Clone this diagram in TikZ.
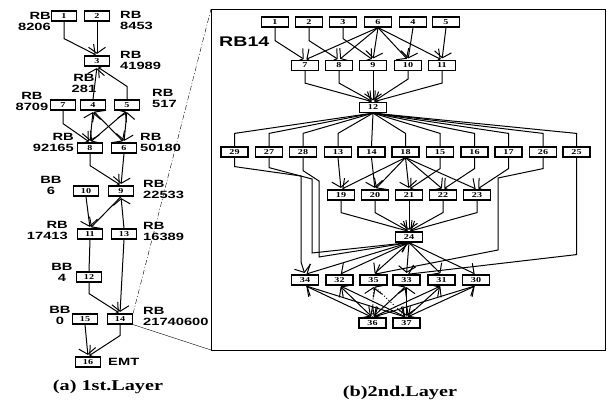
\documentclass[tikz,border=0pt]{standalone}
\usepackage{fontspec}
\usetikzlibrary{arrows.meta,backgrounds}
\newfontfamily\labfam[FakeStretch=1.4]{Liberation Sans}
\newfontfamily\serfam[FakeStretch=1.35]{Liberation Serif}
\newcommand\labfont{\labfam\bfseries\fontsize{10.5}{11.5}\selectfont}
\newcommand\numfont{\serfam\bfseries\fontsize{7.5}{8}\selectfont}
\newcommand\capfont{\serfam\bfseries\fontsize{15}{17}\selectfont}
\newcommand\bigfont{\labfam\bfseries\fontsize{14}{16}\selectfont}
\begin{document}
\begin{tikzpicture}[x=1pt,y=-1pt,
  lbox/.style={draw,line width=1.2pt,minimum width=25pt,minimum height=10pt,inner sep=0pt,font=\numfont,fill=white},
  rbox/.style={draw,line width=1.2pt,minimum width=27pt,minimum height=10pt,inner sep=0pt,font=\numfont,fill=white},
  ln/.style={line width=1pt},
  arr/.style={-{Straight Barb[length=6pt,width=17pt]},shorten >=1.5pt},
  barr/.style={{Straight Barb[length=6pt,width=17pt]}-{Straight Barb[length=6pt,width=17pt]},shorten >=1.5pt,shorten <=1.5pt},
  lab/.style={font=\labfont,inner sep=0pt},
  captxt/.style={font=\capfont,inner sep=0pt}]
\useasboundingbox (0,0) rectangle (608,401);
% ---------------- left panel ----------------
\node[lbox] (a1) at (64,16) {1};
\node[lbox] (a2) at (97,16) {2};
\node[lbox] (a3) at (97,61) {3};
\node[lbox] (a7) at (63,105) {7};
\node[lbox] (a4) at (93,105) {4};
\node[lbox] (a5) at (127,105) {5};
\node[lbox] (a8) at (90,148) {8};
\node[lbox] (a6) at (124,148) {6};
\node[lbox] (a10) at (86,191) {10};
\node[lbox] (a9) at (121,191) {9};
\node[lbox] (a11) at (90,234) {11};
\node[lbox] (a13) at (124,234) {13};
\node[lbox] (a12) at (89,277) {12};
\node[lbox] (a15) at (85,319) {15};
\node[lbox] (a14) at (120,319) {14};
\node[lbox] (a16) at (88,362) {16};

\begin{scope}[on background layer]
\draw[ln,arr] (a1.south) -- ++(0,17) -- (a3.north);
\draw[ln,arr] (a2.south) -- (a3.north);
\draw[ln,arr] (a4.north) -- (a3.south);
\draw[ln,arr] (a5.north) -- ++(0,-13) -- (a3.south);
\draw[ln,arr] (a7.south) -- ++(0,13) -- (a8.north);
\draw[ln,barr] (a4.south) -- (a8.north);
\draw[ln,barr] (a4.south) -- (a6.north);
\draw[ln,barr] (a5.south) -- (a8.north);
\draw[ln,barr] (a5.south) -- (a6.north);
\draw[ln,arr] (a8.south) -- ++(0,12) -- (a9.north);
\draw[ln,arr] (a6.south) -- (a9.north);
\draw[ln,arr] (a10.south) -- (a11.north);
\draw[ln,arr] (a13.north) -- (a9.south);
\draw[ln,arr] (a9.south) -- (a11.north);
\draw[ln] (a11.south) -- (a12.north);
\draw[ln,arr] (a13.south) -- (a14.north);
\draw[ln,arr] (a12.south) -- ++(0,11) -- (a14.north);
\draw[ln,arr] (a15.south) -- (a16.north);
\draw[ln,arr] (a14.south) -- ++(0,11) -- (a16.north);
\end{scope}

\node[lab,anchor=north east,align=right] (l1) at (51,12) {RB\\8206};
\node[lab,anchor=north west,align=left] (l2) at (120,11) {RB\\8453};
\node[lab,anchor=north west,align=left] (l3) at (120,51) {RB\\41989};
\node[lab,anchor=north,align=center] (l4) at (84,74) {RB\\281};
\node[lab,anchor=north,align=center] (l7) at (32,92) {RB\\8709};
\node[lab,anchor=north west,align=left] (l5) at (152,89) {RB\\517};
\node[lab,anchor=north east,align=right] (l8) at (74,133) {RB\\92165};
\node[lab,anchor=north west,align=left] (l6) at (140,133) {RB\\50180};
\node[lab,anchor=north,align=center] (l10) at (51,176) {BB\\6};
\node[lab,anchor=north west,align=left] (l9) at (143,180) {RB\\22533};
\node[lab,anchor=north east,align=right] (l11) at (68,221) {RB\\17413};
\node[lab,anchor=north west,align=left] (l13) at (143,222) {RB\\16389};
\node[lab,anchor=north,align=center] (l12) at (62,263) {BB\\4};
\node[lab,anchor=north,align=center] (l15) at (60,306) {BB\\0};
\node[lab,anchor=north west,align=left] (l14) at (143,307) {RB\\21740600};
\node[lab,anchor=west] (l16) at (108,362) {EMT};
\node[captxt] (capa) at (108,387) {(a) 1st.Layer};

% ---------------- right panel ----------------
\coordinate (ptl) at (211,9);
\coordinate (pbl) at (211,350);
\coordinate (pbr) at (605,350);
\draw[line width=0.9pt] (ptl) rectangle (pbr);
\draw[thin,dash pattern=on 5pt off 2pt on 1pt off 2pt] (a14.north east) -- (ptl);
\draw[thin] (a14.south east) -- (pbl);
\node[font=\bigfont,anchor=west,inner sep=0pt] (rb14) at (219,42) {RB14};
\node[captxt] (capb) at (400,393) {(b)2nd.Layer};

\node[rbox] (b1) at (275,22) {1};
\node[rbox] (b2) at (309,22) {2};
\node[rbox] (b3) at (343,22) {3};
\node[rbox] (b6) at (378,22) {6};
\node[rbox] (b4) at (413,22) {4};
\node[rbox] (b5) at (446,22) {5};
\node[rbox] (b7) at (305,65.5) {7};
\node[rbox] (b8) at (339,65.5) {8};
\node[rbox] (b9) at (373,65.5) {9};
\node[rbox] (b10) at (408,65.5) {10};
\node[rbox] (b11) at (442,65.5) {11};
\node[rbox] (b12) at (373,107.5) {12};
\node[rbox] (b29) at (234.5,152) {29};
\node[rbox] (b27) at (269,152) {27};
\node[rbox] (b28) at (303,152) {28};
\node[rbox] (b13) at (338,152) {13};
\node[rbox] (b14) at (371.5,152) {14};
\node[rbox] (b18) at (405.5,152) {18};
\node[rbox] (b15) at (440,152) {15};
\node[rbox] (b16) at (474.5,152) {16};
\node[rbox] (b17) at (508.5,152) {17};
\node[rbox] (b26) at (543,152) {26};
\node[rbox] (b25) at (576.5,152) {25};
\node[rbox] (b19) at (341,195) {19};
\node[rbox] (b20) at (375,195) {20};
\node[rbox] (b21) at (409,195) {21};
\node[rbox] (b22) at (443,195) {22};
\node[rbox] (b23) at (477,195) {23};
\node[rbox] (b24) at (409,237) {24};
\node[rbox] (b34) at (305,280) {34};
\node[rbox] (b32) at (339.5,280) {32};
\node[rbox] (b35) at (373.5,280) {35};
\node[rbox] (b33) at (406.5,280) {33};
\node[rbox] (b31) at (441.5,280) {31};
\node[rbox] (b30) at (476,280) {30};
\node[rbox] (b36) at (372.5,323) {36};
\node[rbox] (b37) at (406.5,323) {37};

\begin{scope}[on background layer]
% row 1 -> row 2
\draw[ln,arr] (b1.south) -- ++(0,13) -- (b7.north);
\draw[ln,arr] (b2.south) -- ++(0,13) -- (b8.north);
\draw[ln,arr] (b3.south) -- ++(0,11) -- (b9.north);
\foreach \n in {7,8,9,10,11} \draw[ln,arr] (b6.south) -- (b\n.north);
\draw[ln,arr] (b4.south) -- (b10.north);
\draw[ln,arr] (b5.south) -- (b11.north);
% row 2 -> 12
\draw[ln,arr] (b7.south) -- ++(0,12) -- (b12.north);
\draw[ln,arr] (b8.south) -- ++(0,12) -- (b12.north);
\draw[ln,arr] (b9.south) -- (b12.north);
\draw[ln,arr] (b10.south) -- ++(0,8) -- (b12.north);
\draw[ln,arr] (b11.south) -- ++(0,12) -- (b12.north);
% 12 -> row 4
\foreach \n in {29,27,28,13,18,15,16,17,26,25}
  \draw[ln] (b12.south) -- ([yshift=13pt]b\n.north) -- (b\n.north);
\draw[ln] (b12.south) -- (b14.north);
% row 4 -> row 5
\draw[ln,arr] (b13.south) -- (b19.north);
\draw[ln,arr] (b14.south) -- (b20.north);
\foreach \n in {19,20,21,22,23} \draw[ln,arr] (b18.south) -- (b\n.north);
\draw[ln,arr] (b15.south) -- ++(0,11) -- (b21.north);
\draw[ln,arr] (b16.south) -- ++(0,11) -- (b22.north);
\draw[ln,arr] (b17.south) -- ++(0,11) -- (b23.north);
% row 5 -> 24
\draw[ln,arr] (b19.south) -- ++(0,12) -- (b24.north);
\draw[ln,arr] (b20.south) -- ++(0,12) -- (b24.north);
\draw[ln,arr] (b21.south) -- (b24.north);
\draw[ln,arr] (b22.south) -- ++(0,12) -- (b24.north);
\draw[ln,arr] (b23.south) -- ++(0,12) -- (b24.north);
% long side routes
\draw[ln,arr] (b29.south) -- ++(0,9) -- (301,176) -- (301,262) -- (b34.north);
\draw[ln,arr] (b27.south) -- ++(0,10) -- (312,179) -- (312,253) -- (b24.south);
\draw[ln,arr] (b28.south) -- ++(0,13) -- (319,181) -- (319,257) -- (b24.south);
\draw[ln,arr] (b26.south) -- ++(0,11) -- (498,178) -- (498,250) -- (b35.north);
\draw[ln,arr] (b25.south) -- ++(0,97) -- (b33.north);
% 24 -> row 6
\foreach \n in {34,32,35,33,31,30} \draw[ln,arr] (b24.south) -- (b\n.north);
% row 6 <-> row 7
\foreach \n in {34,32,33,31,30} {
  \draw[ln,barr] (b36.north) -- (b\n.south);
  \draw[ln,barr] (b37.north) -- (b\n.south);
}
\draw[ln,dotted,arr] (b36.north) -- (b35.south);
\draw[ln,dotted,arr] (b37.north) -- (b35.south);
\end{scope}
\end{tikzpicture}
\end{document}
